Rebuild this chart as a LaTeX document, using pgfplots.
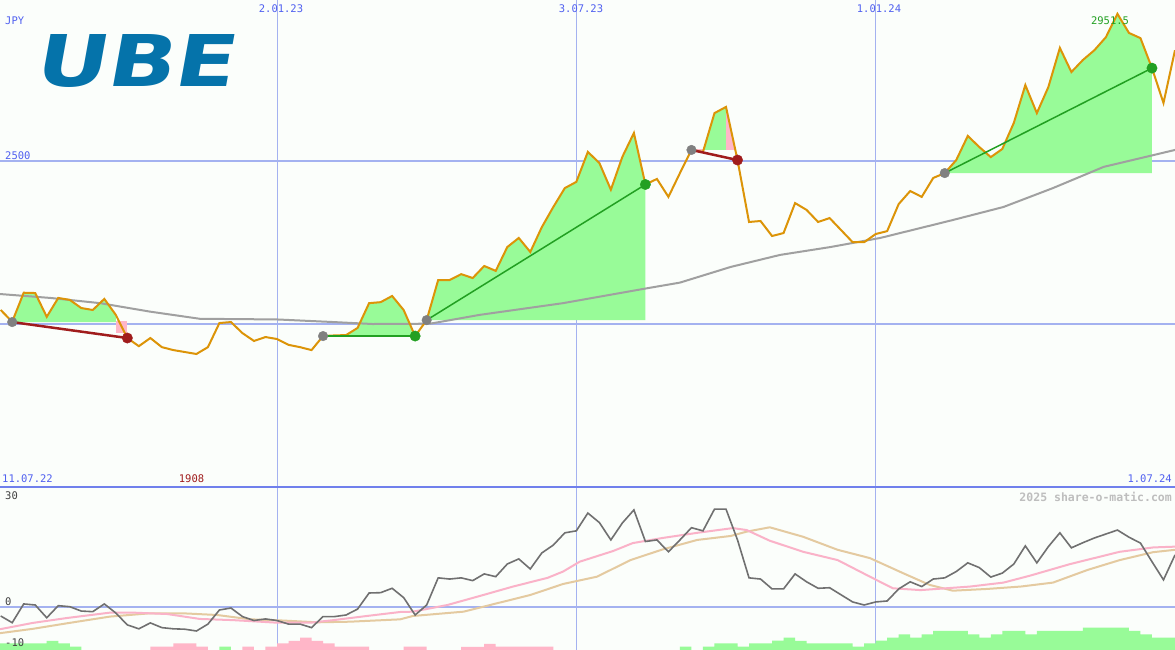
\documentclass[border=0pt]{standalone}
\usepackage{fontspec}
\setmainfont{DejaVu Sans}
\newfontfamily\monof{DejaVu Sans Mono}
\newfontfamily\logof{DejaVu Sans}
\usepackage{graphicx}
\usepackage{pgfplots}
\usepackage{pgfplotstable}
\pgfplotsset{compat=1.18}

\definecolor{bg}{RGB}{251,254,251}
\definecolor{gridc}{RGB}{164,178,240}
\definecolor{sepc}{RGB}{112,128,236}
\definecolor{pricec}{RGB}{220,148,8}
\definecolor{mac}{RGB}{160,160,160}
\definecolor{gainc}{RGB}{34,160,34}
\definecolor{lossc}{RGB}{160,28,28}
\definecolor{fillg}{RGB}{152,251,152}
\definecolor{fillp}{RGB}{255,182,200}
\definecolor{buyc}{RGB}{128,128,128}
\definecolor{momc}{RGB}{112,112,112}
\definecolor{pinkc}{RGB}{250,178,200}
\definecolor{tanc}{RGB}{228,202,160}
\definecolor{labc}{RGB}{80,96,240}
\definecolor{numc}{RGB}{64,64,64}
\definecolor{wmc}{RGB}{190,190,190}
\definecolor{logoc}{RGB}{5,115,170}

% weekly close, week 0 = 11.07.22
\pgfplotstableread{
w P
1 2043
2 2007
3 2096
4 2095
5 2022
6 2080
7 2074
8 2049
9 2043
10 2077
11 2028
12 1957
13 1932
14 1957
15 1929
16 1920
17 1914
18 1908
19 1929
20 2003
21 2006
22 1972
23 1948
24 1960
25 1954
26 1936
27 1929
28 1920
29 1963
30 1965
31 1966
32 1988
33 2064
34 2067
35 2086
36 2043
37 1963
38 2012
39 2135
40 2135
41 2153
42 2141
43 2178
44 2163
45 2236
46 2264
47 2221
48 2297
49 2359
50 2417
51 2436
52 2528
53 2494
54 2412
55 2513
56 2586
57 2428
58 2445
59 2390
60 2463
61 2534
62 2528
63 2647
64 2666
65 2503
66 2313
67 2316
68 2270
69 2279
70 2371
71 2350
72 2313
73 2325
74 2288
75 2251
76 2251
77 2276
78 2285
79 2368
80 2408
81 2390
82 2448
83 2463
84 2503
85 2577
86 2543
87 2512
88 2537
89 2617
90 2733
91 2647
92 2727
93 2847
94 2773
95 2810
96 2840
97 2880
98 2951.5
99 2893
100 2877
101 2785
102 2678
103 2840
}\pricetab

\pgfplotstableread{
w P
0.94 2092
5.3 2080
9.63 2064
13.97 2038
18.3 2016
25 2014
29.9 2006
33.3 2000
38.3 2001
42.6 2028
49.85 2064
57.2 2110
60 2127
64.4 2175
68.7 2212
73.05 2236
77.4 2264
83.7 2319
88.1 2359
92.4 2417
96.8 2482
101.1 2518
103 2534
}\matab

\pgfplotstableread{
w V
1 -2.15
2 -3.85
3 0.9
4 0.63
5 -2.6
6 0.46
7 0.2
8 -0.9
9 -1.06
10 0.9
11 -1.4
12 -4.4
13 -5.4
14 -3.9
15 -5.1
16 -5.4
17 -5.5
18 -5.95
19 -4.2
20 -0.63
21 -0.13
22 -2.3
23 -3.3
24 -2.9
25 -3.3
26 -4.2
27 -4.2
28 -5.1
29 -2.3
30 -2.3
31 -1.9
32 -0.4
33 3.67
34 3.75
35 4.86
36 2.5
37 -1.9
38 0.63
39 7.5
40 7.2
41 7.5
42 6.8
43 8.5
44 7.8
45 11.0
46 12.3
47 9.75
48 13.8
49 15.8
50 18.9
51 19.4
52 23.9
53 21.5
54 17.1
55 21.4
56 24.7
57 16.7
58 17.1
59 14.1
60 17.1
61 20.2
62 19.4
63 24.9
64 24.9
65 17.1
66 7.5
67 7.2
68 4.7
69 4.7
70 8.5
71 6.5
72 4.86
73 5.0
74 3.2
75 1.4
76 0.63
77 1.4
78 1.65
79 4.7
80 6.5
81 5.3
82 7.2
83 7.5
84 9.1
85 11.3
86 10.1
87 7.7
88 8.7
89 11.0
90 15.6
91 11.3
92 15.4
93 18.9
94 15.1
95 16.4
96 17.6
97 18.6
98 19.6
99 17.8
100 16.3
101 11.6
102 7.0
103 13.3
}\momtab

\pgfplotstableread{
w V
0.94 -5.5
3.8 -3.9
6.76 -2.66
10.5 -1.3
12.5 -1.3
15.45 -1.65
18.3 -2.9
21.2 -3.2
25 -3.85
27.9 -3.85
29.9 -3.2
32.8 -2.15
35.7 -1.14
36.8 -1.06
39.8 0.63
42.6 2.9
45.5 5.3
48.5 7.5
49.85 9.1
51.3 11.6
54.2 14.3
55.9 16.3
58.5 17.6
61.5 18.9
64.6 20.1
65.8 19.6
67.8 16.9
70.7 14.1
73.7 12.0
76.5 7.8
78.5 4.86
80.9 4.4
85.2 5.3
88.1 6.3
90.4 8.05
93.9 11.0
98.2 14.1
101.1 15.2
103 15.4
}\pinktab

\pgfplotstableread{
w V
0.94 -6.5
3.8 -5.4
6.76 -4.0
10.5 -2.3
13.97 -1.47
16.8 -1.47
19.8 -1.9
22.7 -3.0
25.5 -3.3
28.5 -3.75
31.3 -3.6
35.7 -3.0
36.8 -2.15
41.2 -1.06
44.1 1.06
47 3.16
49.85 5.95
52.8 7.8
55.7 12.0
58.5 14.7
61.5 17.1
64.4 18.1
65.8 19.2
67.8 20.3
70.7 17.9
73.7 14.6
76.5 12.5
79.4 8.66
81.7 5.7
83.7 4.25
86.7 4.7
89.6 5.3
92.4 6.3
95.4 9.5
98.2 12.0
101.1 14.0
103 14.6
}\tantab

\pgfplotsset{panel/.style={scale only axis, width=1175pt, xmin=0.94, xmax=103,
  axis line style={draw=none}, ticks=none}}

\begin{document}
\begin{tikzpicture}
\fill[bg] (0,0) rectangle (1175pt,650pt);

\begin{axis}[panel, at={(0,163pt)}, anchor=south west, height=487pt, ymin=1500, ymax=2994]
\draw[gridc, line width=1pt] (axis cs:25,1500) -- (axis cs:25,2994);
\draw[gridc, line width=1pt] (axis cs:51,1500) -- (axis cs:51,2994);
\draw[gridc, line width=1pt] (axis cs:77,1500) -- (axis cs:77,2994);
\draw[gridc, line width=2pt] (axis cs:0.94,2000) -- (axis cs:103,2000);
\draw[gridc, line width=2pt] (axis cs:0.94,2500) -- (axis cs:103,2500);

% trade areas
\addplot[draw=none, fill=fillg] coordinates {(2,2006)(3,2096)(4,2095)(5,2022)(6,2080)(7,2074)(8,2049)(9,2043)(10,2077)(11,2028)(11,2006)};
\addplot[draw=none, fill=fillp] coordinates {(11,2010)(12,2010)(12,1972)(11,1972)};
\addplot[draw=none, fill=fillg] coordinates {(29,1963)(30,1965)(31,1966)(32,1988)(33,2064)(34,2067)(35,2086)(36,2043)(37,1963)};
\addplot[draw=none, fill=fillg] coordinates {(38,2012)(39,2135)(40,2135)(41,2153)(42,2141)(43,2178)(44,2163)(45,2236)(46,2264)(47,2221)(48,2297)(49,2359)(50,2417)(51,2436)(52,2528)(53,2494)(54,2412)(55,2513)(56,2586)(57,2428)(57,2012)};
\addplot[draw=none, fill=fillg] coordinates {(62,2534)(63,2647)(64,2666)(64,2534)};
\addplot[draw=none, fill=fillp] coordinates {(64,2534)(64,2666)(64.81,2534)};
\addplot[draw=none, fill=fillp] coordinates {(61,2536)(62,2536)(62,2528)(61,2528)};
\addplot[draw=none, fill=fillg] coordinates {(83,2463)(84,2503)(85,2577)(86,2543)(87,2512)(88,2537)(89,2617)(90,2733)(91,2647)(92,2727)(93,2847)(94,2773)(95,2810)(96,2840)(97,2880)(98,2951.5)(99,2893)(100,2877)(101,2785)(101,2463)};

\addplot[mac, line width=2pt] table {\matab};
\addplot[pricec, line width=2pt] table {\pricetab};

% trades
\addplot[lossc, line width=2.5pt] coordinates {(2,2006)(12,1957)};
\addplot[gainc, line width=2pt] coordinates {(29,1963)(37,1963)};
\addplot[gainc, line width=1.5pt] coordinates {(38,2012)(57,2428)};
\addplot[lossc, line width=2.5pt] coordinates {(61,2534)(65,2503)};
\addplot[gainc, line width=1.5pt] coordinates {(83,2463)(101,2785)};
\addplot[only marks, mark=*, mark size=4.8pt, buyc] coordinates {(2,2006)(29,1963)(38,2012)(61,2534)(83,2463)};
\addplot[only marks, mark=*, mark size=5.2pt, gainc] coordinates {(37,1963)(57,2428)(101,2785)};
\addplot[only marks, mark=*, mark size=5.2pt, lossc] coordinates {(12,1957)(65,2503)};
\end{axis}

\begin{axis}[panel, at={(0,0)}, anchor=south west, height=163pt, ymin=-10.76, ymax=30.5]
\draw[gridc, line width=1pt] (axis cs:25,-10.76) -- (axis cs:25,30.5);
\draw[gridc, line width=1.5pt] (axis cs:51,-10.76) -- (axis cs:51,30.5);
\draw[gridc, line width=1pt] (axis cs:77,-10.76) -- (axis cs:77,30.5);
\draw[gridc, line width=2pt] (axis cs:0.94,0) -- (axis cs:103,0);

% histogram
\addplot[const plot, draw=none, fill=fillg] coordinates {(0.9,-12)(0.9,-9.06)(5,-8.48)(6,-9.06)(7,-9.92)(8,-12)};
\addplot[const plot, draw=none, fill=fillp] coordinates {(14,-12)(14,-9.92)(16,-9.06)(18,-9.92)(19,-12)};
\addplot[const plot, draw=none, fill=fillg] coordinates {(20,-12)(20,-9.92)(21,-12)};
\addplot[const plot, draw=none, fill=fillp] coordinates {(22,-12)(22,-9.92)(23,-12)};
\addplot[const plot, draw=none, fill=fillp] coordinates {(24,-12)(24,-9.92)(25,-9.06)(26,-8.48)(27,-7.65)(28,-8.48)(29,-9.06)(30,-9.92)(33,-12)};
\addplot[const plot, draw=none, fill=fillp] coordinates {(36,-12)(36,-9.92)(38,-12)};
\addplot[const plot, draw=none, fill=fillp] coordinates {(41,-12)(41,-10.0)(43,-9.24)(44,-9.92)(49,-12)};
\addplot[const plot, draw=none, fill=fillg] coordinates {(60,-12)(60,-9.92)(61,-12)};
\addplot[const plot, draw=none, fill=fillg] coordinates {(62,-12)(62,-9.92)(63,-9.06)(65,-9.92)(66,-9.06)(68,-8.4)(69,-7.65)(70,-8.48)(71,-9.06)(75,-9.92)(76,-9.06)(77,-8.4)(78,-7.65)(79,-6.78)(80,-7.65)(81,-6.78)(82,-5.95)(85,-6.78)(86,-7.65)(87,-6.78)(88,-5.95)(90,-6.78)(91,-5.95)(95,-5.11)(99,-5.95)(100,-6.78)(101,-7.65)(103.5,-12)};

\addplot[tanc, line width=2pt] table {\tantab};
\addplot[pinkc, line width=2pt] table {\pinktab};
\addplot[momc, line width=1.6pt] table {\momtab};
\end{axis}

\draw[sepc, line width=2.5pt] (0,163pt) -- (1175pt,163pt);

\begin{scope}[shift={(33pt,562pt)}]
\node[anchor=south west, inner sep=0, logoc, xslant=0.18, transform shape] at (0,0)
  {\resizebox{200pt}{52pt}{\logof\bfseries UBE}};
\end{scope}

\begin{scope}[every node/.style={inner sep=0, font=\monof\fontsize{10.5}{10.5}\selectfont}]
\node[anchor=west, labc] at (5pt,629pt) {JPY};
\node[labc] at (281pt,641pt) {2.01.23};
\node[labc] at (581pt,641pt) {3.07.23};
\node[labc] at (879pt,641pt) {1.01.24};
\node[anchor=west, labc] at (5pt,494pt) {2500};
\node[gainc] at (1110pt,629pt) {2951.5};
\node[anchor=west, labc] at (2pt,171.5pt) {11.07.22};
\node[lossc] at (191.5pt,171.5pt) {1908};
\node[anchor=east, labc] at (1172pt,171pt) {1.07.24};
\node[anchor=west, numc] at (5pt,154.5pt) {30};
\node[anchor=west, numc] at (5pt,48pt) {0};
\node[anchor=west, numc] at (5pt,7.5pt) {-10};
\end{scope}
\node[anchor=east, inner sep=0, wmc, font=\monof\bfseries\fontsize{11.5}{11.5}\selectfont] at (1172pt,153.5pt) {2025 share-o-matic.com};

\pgfresetboundingbox
\path[use as bounding box] (0,0) rectangle (1175pt,650pt);
\end{tikzpicture}
\end{document}
